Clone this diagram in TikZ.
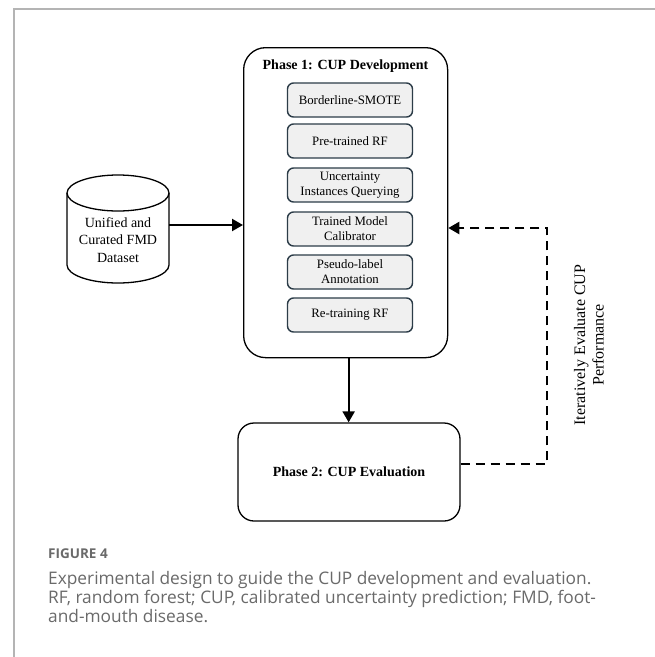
\documentclass[tikz,border=0pt]{standalone}
\usepackage{fontspec}
\setmainfont{Liberation Serif}
\newfontfamily\capfont{Open Sans}
\usetikzlibrary{arrows.meta}
\definecolor{framecol}{HTML}{B4B4B4}
\definecolor{boxedge}{HTML}{2C3C48}
\definecolor{boxfill}{HTML}{F0F0F0}
\definecolor{captext}{HTML}{6A6A6A}
\tikzset{
  phasebox/.style={draw=black, line width=1.3pt, inner sep=0pt},
  stepbox/.style={draw=boxedge, fill=boxfill, line width=1.4pt, rounded corners=6pt,
    minimum width=125pt, minimum height=34pt, inner sep=0pt, align=center,
    font=\fontsize{12.8}{14.8}\selectfont},
  arr/.style={line width=2.2pt, -{Triangle[length=11pt,width=12pt]}},
  dasharr/.style={line width=2.2pt, dash pattern=on 9pt off 6pt, -{Triangle[length=11pt,width=12pt]}},
}
\begin{document}
\begin{tikzpicture}[x=1pt,y=-1pt]
\useasboundingbox (0,0) rectangle (655,657);
\fill[white] (0,0) rectangle (655,657);
\draw[framecol, line width=1.6pt] (14,657) -- (14,9) -- (655,9);

% Phase 1
\node[phasebox, rounded corners=22pt, minimum width=204pt, minimum height=310pt, anchor=north west] (p1) at (243,47) {};
\node[font=\bfseries\fontsize{14}{16}\selectfont] (t1) at (345.5,66) {Phase 1: CUP Development};
\node[stepbox] (s1) at (350,100) {Borderline-SMOTE};
\node[stepbox] (s2) at (350,141) {Pre-trained RF};
\node[stepbox] (s3) at (350,185) {Uncertainty\\Instances Querying};
\node[stepbox] (s4) at (350,229) {Trained Model\\Calibrator};
\node[stepbox] (s5) at (350,272) {Pseudo-label\\Annotation};
\node[stepbox] (s6) at (350,315) {Re-training RF};

% Phase 2
\node[phasebox, rounded corners=16pt, minimum width=222pt, minimum height=98pt,
  font=\bfseries\fontsize{14}{16}\selectfont] (p2) at (349,472) {Phase 2: CUP Evaluation};

% Dataset cylinder
\node[minimum width=102pt, minimum height=108pt, inner sep=0pt] (db) at (118,229) {};
\draw[line width=1.3pt] (118,193) ellipse [x radius=51pt, y radius=18pt];
\draw[line width=1.3pt] (67,193) -- (67,265) arc[start angle=180, end angle=360, x radius=51pt, y radius=18pt] -- (169,193);
\node[align=center, font=\fontsize{14}{17.5}\selectfont] (dbt) at (118,240) {Unified and\\Curated FMD\\Dataset};

% connectors
\draw[arr] ([yshift=4pt]db.east) -- ([yshift=4pt]db.east -| p1.west);
\draw[arr] ([xshift=3pt]p1.south) -- ([xshift=3pt]p1.south |- p2.north);
\coordinate (loop) at (547,228);
\draw[dasharr] ([yshift=8pt]p2.east) -| (loop) -- (loop -| p1.east);
\node[rotate=90, align=center, font=\fontsize{16}{18.5}\selectfont] (lbl) at (589,345) {Iteratively Evaluate CUP\\Performance};

% caption
\node[anchor=west, inner sep=0pt, text=captext, font=\capfont\bfseries\fontsize{13.5}{16}\selectfont] (fig) at (48,554) {FIGURE 4};
\node[anchor=north west, inner sep=0pt, align=left, text=captext, font=\capfont\fontsize{17.3}{19.2}\selectfont] (cap) at (48,571) {Experimental design to guide the CUP development and evaluation.\\RF, random forest; CUP, calibrated uncertainty prediction; FMD, foot-\\and-mouth disease.};
\end{tikzpicture}
\end{document}
